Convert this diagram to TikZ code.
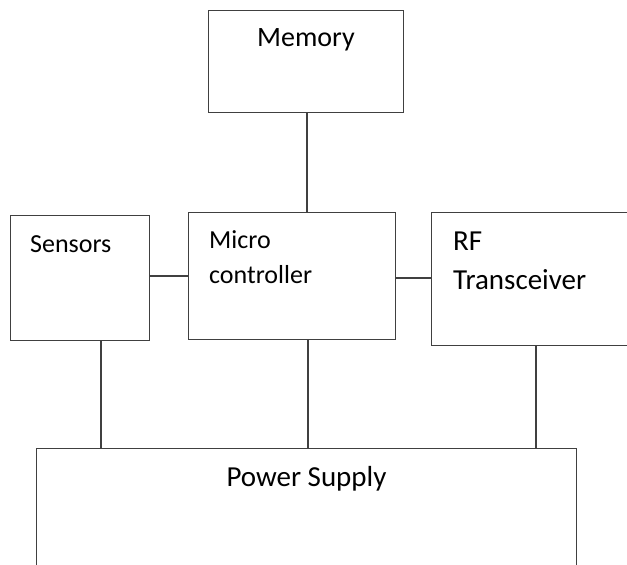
\documentclass[tikz,border=0pt]{standalone}
\usepackage{fontspec}
\setmainfont{Carlito}
\definecolor{linegray}{HTML}{404040}
\begin{document}
\begin{tikzpicture}[x=1pt,y=-1pt,
  blk/.style={draw=linegray, line width=1.2pt, rectangle, inner sep=0pt, anchor=north west},
  wire/.style={draw=linegray, line width=1.1pt},
  lbl/.style={inner sep=0pt, text=black}]
\useasboundingbox (0,0) rectangle (627,565);
\clip (0,0) rectangle (627,565);

% blocks (the transceiver and supply run past the sheet edge)
\node[blk, minimum width=195pt, minimum height=102pt] (mem) at (208,10) {};
\node[blk, minimum width=139pt, minimum height=125pt] (sens) at (10,215) {};
\node[blk, minimum width=207pt, minimum height=127pt] (mcu) at (188,212) {};
\node[blk, minimum width=210pt, minimum height=133pt] (rf) at (431,212) {};
\node[blk, minimum width=540pt, minimum height=150pt] (psu) at (36,448) {};

% labels
\node[lbl, anchor=base] (tmem) at (306,46) {\fontsize{28}{32}\selectfont Memory};
\node[lbl, anchor=base west] (tsens) at (30,252) {\fontsize{26}{30}\selectfont Sensors};
\node[lbl, anchor=base west] (tmcu1) at (209,248) {\fontsize{26}{30}\selectfont Micro};
\node[lbl, anchor=base west] (tmcu2) at (209,283) {\fontsize{26}{30}\selectfont controller};
\node[lbl, anchor=base west] (trf1) at (453,250) {\fontsize{29}{33}\selectfont RF};
\node[lbl, anchor=base west] (trf2) at (453,289) {\fontsize{29}{33}\selectfont Transceiver};
\node[lbl, anchor=base] (tpsu) at (306.5,486) {\fontsize{29}{33}\selectfont Power Supply};

% connector positions
\coordinate (xmem) at (307,0);
\coordinate (ysm) at (0,276);
\coordinate (ymr) at (0,278);
\coordinate (xs) at (101,0);
\coordinate (xm) at (308,0);
\coordinate (xr) at (536,0);

% connectors
\draw[wire] (xmem |- mem.south) -- (xmem |- mcu.north);
\draw[wire] (sens.east |- ysm) -- (mcu.west |- ysm);
\draw[wire] (mcu.east |- ymr) -- (rf.west |- ymr);
\draw[wire] (xs |- sens.south) -- (xs |- psu.north);
\draw[wire] (xm |- mcu.south) -- (xm |- psu.north);
\draw[wire] (xr |- rf.south) -- (xr |- psu.north);
\end{tikzpicture}
\end{document}
